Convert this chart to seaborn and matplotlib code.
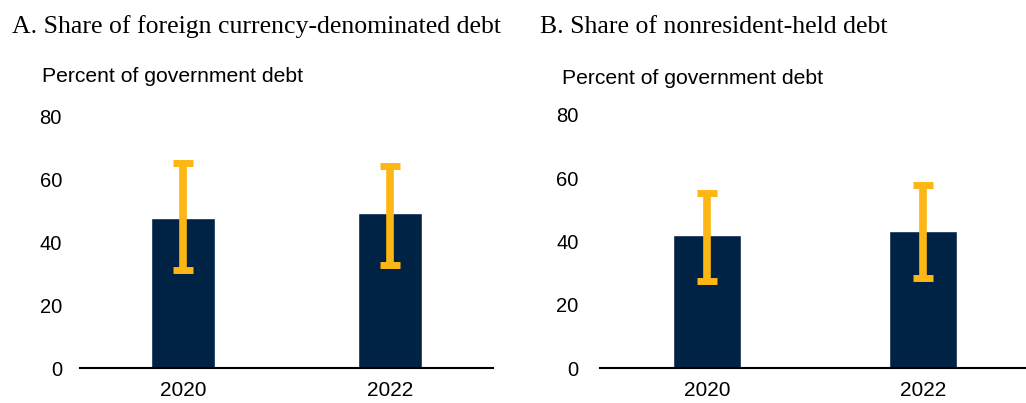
import numpy as np
import pandas as pd
import matplotlib
matplotlib.use("Agg")
import matplotlib.pyplot as plt
import seaborn as sns

# data
years = ["2020", "2022"]
fx_share = [47.7, 49.3]
fx_low = [31.2, 32.7]
fx_high = [65.3, 64.4]
nonres_share = [42.1, 43.3]
nonres_low = [27.4, 28.6]
nonres_high = [55.3, 57.8]

titles = ["A. Share of foreign currency-denominated debt",
          "B. Share of nonresident-held debt"]
ylabel = "Percent of government debt"

NAVY = "#002245"
GOLD = "#FDB714"

sns.set_style("white")
plt.rcParams["font.family"] = ["Liberation Sans", "DejaVu Sans"]
plt.rcParams["text.color"] = "black"
plt.rcParams["xtick.color"] = "black"
plt.rcParams["ytick.color"] = "black"

fig = plt.figure(figsize=(10.26, 4.03), dpi=100)
ax_a = fig.add_axes([80 / 1026, 1 - 368 / 403, 413 / 1026, (368 - 117) / 403])
ax_b = fig.add_axes([599.5 / 1026, 1 - 368 / 403, 431.6 / 1026, (368 - 115) / 403])


def draw_panel(ax, vals, low, high, width, ypad):
    df = pd.DataFrame({"year": years, "value": vals})
    sns.barplot(data=df, x="year", y="value", color=NAVY, width=width,
                saturation=1, ax=ax)
    vals = np.array(vals)
    yerr = [vals - np.array(low), np.array(high) - vals]
    ax.errorbar(np.arange(len(years)), vals, yerr=yerr, fmt="none",
                ecolor=GOLD, elinewidth=5.5, capsize=7, capthick=5, zorder=5)
    ax.set_xlim(-0.5, 1.5)
    ax.set_ylim(0, 80)
    ax.set_yticks([0, 20, 40, 60, 80])
    ax.set_xlabel("")
    ax.set_ylabel("")
    for s in ["top", "right", "left"]:
        ax.spines[s].set_visible(False)
    ax.spines["bottom"].set_color("black")
    ax.spines["bottom"].set_linewidth(1.5)
    ax.tick_params(axis="y", length=0, pad=ypad, labelsize=14.5, labelcolor="black")
    ax.tick_params(axis="x", length=0, pad=9, labelsize=15, labelcolor="black")
    ax.set_facecolor("white")


draw_panel(ax_a, fx_share, fx_low, fx_high, 0.31, 13)
draw_panel(ax_b, nonres_share, nonres_low, nonres_high, 0.315, 15)

serif = ["Liberation Serif", "DejaVu Serif"]
fig.text(12 / 1026, 1 - 27 / 403, titles[0], family=serif,
         fontsize=18.5, va="center", ha="left")
fig.text(540 / 1026, 1 - 27 / 403, titles[1], family=serif,
         fontsize=18.5, va="center", ha="left")
fig.text(42 / 1026, 1 - 77 / 403, ylabel, fontsize=15.2, va="center", ha="left")
fig.text(562 / 1026, 1 - 78 / 403, ylabel, fontsize=15.2, va="center", ha="left")

fig.savefig("out.png", dpi=100, facecolor="white")
